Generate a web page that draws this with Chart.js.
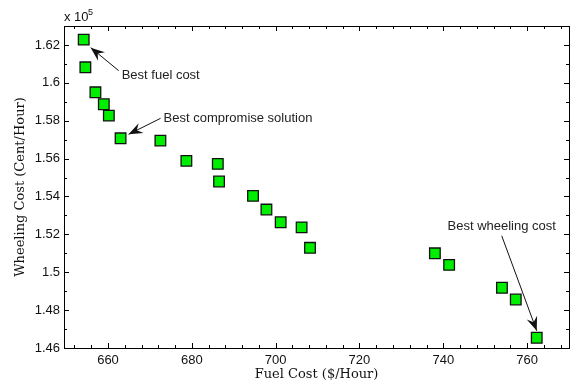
<!DOCTYPE html>
<html>
<head>
<meta charset="utf-8">
<script src="https://cdn.jsdelivr.net/npm/chart.js@4/dist/chart.umd.min.js"></script>
<style>
  html, body { margin: 0; padding: 0; background: #fff; }
  #wrap { width: 579px; height: 385px; }
</style>
</head>
<body>
<div id="wrap"><canvas id="myChart" width="579" height="385"></canvas></div>
<script>
// fuel cost ($/Hour) and wheeling cost (x 10^5 Cent/Hour) of each solution
const fuelCost = [654.2, 654.6, 657.0, 659.0, 660.2, 663.0, 672.5, 678.7, 686.2, 686.5,
                  694.6, 697.8, 701.2, 706.2, 708.2, 738.0, 741.4, 754.0, 757.3, 762.3];
const wheelingCost = [1.6228, 1.6082, 1.5950, 1.5887, 1.5827, 1.5707, 1.5695, 1.5588, 1.5572, 1.5479,
                      1.5403, 1.5331, 1.5264, 1.5237, 1.5129, 1.5100, 1.5039, 1.4918, 1.4856, 1.4654];
const xTicks = [660, 680, 700, 720, 740, 760];
const yTicks = [1.46, 1.48, 1.5, 1.52, 1.54, 1.56, 1.58, 1.6, 1.62];

// annotated points: index into the arrays above
const notes = [
    { index: 0, text: 'Best fuel cost' },
    { index: 5, text: 'Best compromise solution' },
    { index: 19, text: 'Best wheeling cost' }
];
// where each label/arrow sits relative to its point (pixels)
const noteStyle = [
    { head: [7, 8], tail: [35, 31], text: [38, 36], align: 'left' },
    { head: [8, -4], tail: [40, -20], text: [43, -20], align: 'left' },
    { head: [0, -7], tail: [-35, -102], text: [-35, -111], align: 'center' }
];

const ctx = document.getElementById('myChart');

const frameTicks = {
    id: 'frameTicks',
    afterDatasetsDraw(chart) {
        const c = chart.ctx;
        const a = chart.chartArea;
        const xs = chart.scales.x, ys = chart.scales.y;
        c.save();
        c.strokeStyle = '#000';
        c.lineWidth = 1;
        c.strokeRect(Math.round(a.left) + 0.5, Math.round(a.top) + 0.5,
                     Math.round(a.right - a.left), Math.round(a.bottom - a.top));
        c.beginPath();
        // x ticks (major + minor every 4)
        const xStep = (xTicks[1] - xTicks[0]) / 5;
        for (let v = xTicks[0] - 5 * xStep; v <= xs.max; v += xStep) {
            if (v < xs.min) continue;
            const major = Math.abs(((v - xTicks[0]) / (xStep * 5)) - Math.round((v - xTicks[0]) / (xStep * 5))) < 1e-6;
            const len = major ? 5 : 3;
            const px = Math.round(xs.getPixelForValue(v)) + 0.5;
            c.moveTo(px, a.bottom); c.lineTo(px, a.bottom - len);
            c.moveTo(px, a.top); c.lineTo(px, a.top + len);
        }
        // y ticks (major + minor every 0.01)
        const yStep = (yTicks[1] - yTicks[0]) / 2;
        for (let i = 0; ; i++) {
            const v = yTicks[0] + i * yStep;
            if (v > ys.max + 1e-9) break;
            const len = i % 2 === 0 ? 5 : 3;
            const py = Math.round(ys.getPixelForValue(v)) + 0.5;
            c.moveTo(a.left, py); c.lineTo(a.left + len, py);
            c.moveTo(a.right, py); c.lineTo(a.right - len, py);
        }
        c.stroke();

        // x 10^5 multiplier
        c.fillStyle = '#111';
        c.font = '13px "Liberation Sans", Arial, sans-serif';
        c.textBaseline = 'alphabetic';
        c.textAlign = 'left';
        c.fillText('x 10', 64, 21);
        c.font = '9px "Liberation Sans", Arial, sans-serif';
        c.fillText('5', 88, 15);

        // annotations with arrows
        c.font = '13px "Liberation Sans", Arial, sans-serif';
        c.textBaseline = 'middle';
        notes.forEach((n, k) => {
            const s = noteStyle[k];
            const px = xs.getPixelForValue(fuelCost[n.index]);
            const py = ys.getPixelForValue(wheelingCost[n.index]);
            const hx = px + s.head[0], hy = py + s.head[1];
            const tx = px + s.tail[0], ty = py + s.tail[1];
            c.strokeStyle = '#111';
            c.lineWidth = 1;
            c.beginPath();
            c.moveTo(tx, ty); c.lineTo(hx, hy);
            c.stroke();
            const ang = Math.atan2(hy - ty, hx - tx);
            const L = 14, W = 5.5;
            c.beginPath();
            c.moveTo(hx, hy);
            c.lineTo(hx - L * Math.cos(ang) + W * Math.sin(ang), hy - L * Math.sin(ang) - W * Math.cos(ang));
            c.lineTo(hx - L * 0.65 * Math.cos(ang), hy - L * 0.65 * Math.sin(ang));
            c.lineTo(hx - L * Math.cos(ang) - W * Math.sin(ang), hy - L * Math.sin(ang) + W * Math.cos(ang));
            c.closePath();
            c.fillStyle = '#111';
            c.fill();
            c.fillStyle = '#222';
            c.textAlign = s.align;
            c.fillText(n.text, px + s.text[0], py + s.text[1]);
        });
        c.restore();
    }
};

new Chart(ctx, {
    type: 'scatter',
    data: {
        datasets: [{
            data: fuelCost.map((x, i) => ({ x: x, y: wheelingCost[i] })),
            pointStyle: 'rect',
            pointRadius: 7.5,
            pointHoverRadius: 7.5,
            backgroundColor: '#00ee00',
            borderColor: '#111',
            borderWidth: 1.3
        }]
    },
    options: {
        responsive: false,
        animation: false,
        layout: { padding: { left: 0, top: 26, right: 10, bottom: 0 } },
        plugins: {
            legend: { display: false },
            tooltip: { enabled: false }
        },
        scales: {
            x: {
                type: 'linear',
                min: 649.5,
                max: 770,
                afterBuildTicks: (s) => { s.ticks = xTicks.map(v => ({ value: v })); },
                afterFit: (s) => { s.height = 37; },
                grid: { display: false, drawTicks: false },
                border: { display: false },
                ticks: {
                    padding: 5,
                    color: '#111',
                    font: { family: '"Liberation Sans", Arial, sans-serif', size: 13 },
                    callback: (v) => String(v)
                },
                title: {
                    display: true,
                    text: 'Fuel Cost ($/Hour)',
                    color: '#111',
                    padding: { top: 0, bottom: 3 },
                    font: { family: '"DejaVu Serif", serif', size: 13 }
                }
            },
            y: {
                type: 'linear',
                min: 1.46,
                max: 1.63,
                afterBuildTicks: (s) => { s.ticks = yTicks.map(v => ({ value: v })); },
                afterFit: (s) => { s.width = 64; },
                grid: { display: false, drawTicks: false },
                border: { display: false },
                ticks: {
                    padding: 4,
                    color: '#111',
                    font: { family: '"Liberation Sans", Arial, sans-serif', size: 13 },
                    callback: (v) => String(+v.toFixed(2))
                },
                title: {
                    display: true,
                    text: 'Wheeling Cost (Cent/Hour)',
                    color: '#111',
                    padding: { top: 13, bottom: 0 },
                    font: { family: '"DejaVu Serif", serif', size: 13 }
                }
            }
        }
    },
    plugins: [frameTicks]
});
</script>
</body>
</html>
